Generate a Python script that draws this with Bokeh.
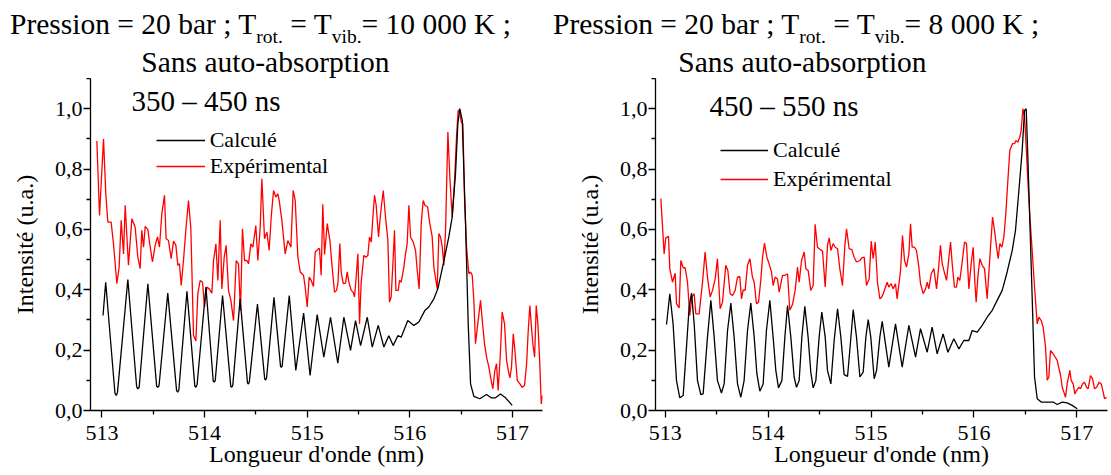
from bokeh.plotting import figure
from bokeh.layouts import row, column
from bokeh.models import (Range1d, FixedTicker, CustomJSTickFormatter, Label,
                          Legend, LegendItem, Div)
from bokeh.embed import file_html
from bokeh.resources import INLINE

FONT = "Liberation Serif"

# ---------------- data ----------------
X_TICKS = [513, 514, 515, 516, 517]
X_MINOR = [513.5, 514.5, 515.5, 516.5]
Y_TICKS = [0.0, 0.2, 0.4, 0.6, 0.8, 1.0]
Y_MINOR = [0.1, 0.3, 0.5, 0.7, 0.9, 1.1]

left_calc_x = [513.010, 513.036, 513.126, 513.139, 513.151, 513.252, 513.338, 513.350, 513.362, 513.447,
               513.533, 513.544, 513.556, 513.641, 513.727, 513.738, 513.749, 513.828, 513.905, 513.916,
               513.927, 514.013, 514.084, 514.094, 514.104, 514.175, 514.255, 514.265, 514.275, 514.346,
               514.418, 514.427, 514.436, 514.515, 514.586, 514.595, 514.604, 514.676, 514.740, 514.748,
               514.756, 514.825, 514.889, 514.965, 515.028, 515.097, 515.162, 515.227, 515.298, 515.357,
               515.422, 515.471, 515.520, 515.585, 515.634, 515.692, 515.747, 515.795, 515.838, 515.883,
               515.916, 515.980, 516.039, 516.088, 516.146, 516.185, 516.234, 516.273, 516.326, 516.380,
               516.413, 516.445, 516.468, 516.487, 516.511, 516.543, 516.569, 516.592, 516.624, 516.682,
               516.748, 516.793, 516.835, 516.884, 516.933, 516.998]
left_calc_y = [0.315, 0.425, 0.058, 0.050, 0.060, 0.434, 0.078, 0.072, 0.076, 0.420,
               0.080, 0.077, 0.082, 0.389, 0.066, 0.061, 0.068, 0.395, 0.080, 0.077,
               0.086, 0.409, 0.097, 0.094, 0.100, 0.381, 0.080, 0.077, 0.084, 0.370,
               0.091, 0.088, 0.095, 0.353, 0.104, 0.101, 0.108, 0.375, 0.146, 0.143,
               0.148, 0.381, 0.133, 0.323, 0.116, 0.318, 0.177, 0.309, 0.157, 0.309,
               0.199, 0.298, 0.215, 0.309, 0.210, 0.282, 0.210, 0.248, 0.215, 0.248,
               0.243, 0.298, 0.282, 0.293, 0.331, 0.343, 0.370, 0.403, 0.486, 0.575,
               0.641, 0.784, 0.950, 1.000, 0.961, 0.618, 0.287, 0.088, 0.047, 0.039,
               0.053, 0.042, 0.042, 0.055, 0.042, 0.017]

left_exp_x = [512.950, 512.976, 513.015, 513.037, 513.057, 513.089, 513.112, 513.145, 513.167, 513.187,
              513.210, 513.226, 513.258, 513.291, 513.323, 513.349, 513.372, 513.388, 513.405, 513.421,
              513.447, 513.470, 513.492, 513.518, 513.541, 513.560, 513.583, 513.609, 513.625, 513.648,
              513.674, 513.697, 513.720, 513.739, 513.755, 513.772, 513.794, 513.817, 513.843, 513.866,
              513.892, 513.915, 513.934, 513.957, 513.980, 513.999, 514.022, 514.045, 514.071, 514.087,
              514.110, 514.129, 514.152, 514.168, 514.191, 514.210, 514.233, 514.256, 514.282, 514.308,
              514.330, 514.350, 514.369, 514.389, 514.412, 514.428, 514.451, 514.470, 514.499, 514.519,
              514.542, 514.558, 514.584, 514.607, 514.629, 514.649, 514.672, 514.694, 514.714, 514.727,
              514.753, 514.785, 514.811, 514.841, 514.863, 514.883, 514.909, 514.932, 514.948, 514.964,
              514.980, 515.000, 515.019, 515.039, 515.061, 515.078, 515.110,
              515.120, 515.136, 515.152, 515.169, 515.195, 515.221, 515.243, 515.266, 515.286, 515.299,
              515.318, 515.331, 515.351, 515.373, 515.390, 515.406, 515.429, 515.448, 515.461, 515.481,
              515.494, 515.510, 515.526, 515.552, 515.572, 515.591, 515.607, 515.624, 515.640, 515.656,
              515.672, 515.695, 515.715, 515.741, 515.763, 515.786, 515.802, 515.818, 515.835, 515.851,
              515.864, 515.887, 515.900, 515.916, 515.942, 515.958, 515.974, 515.991, 516.007, 516.033,
              516.056, 516.072, 516.091, 516.111, 516.130, 516.147, 516.173, 516.195, 516.218, 516.234,
              516.254, 516.267, 516.283, 516.299, 516.316, 516.332, 516.348, 516.371, 516.390, 516.413,
              516.436, 516.455, 516.471, 516.484, 516.501, 516.517, 516.533, 516.553, 516.575, 516.592,
              516.608, 516.624, 516.640, 516.666, 516.689, 516.709, 516.728, 516.748, 516.770, 516.793,
              516.809, 516.829, 516.845, 516.861, 516.884, 516.900, 516.923, 516.943, 516.959, 516.975,
              516.991, 517.008, 517.024, 517.047, 517.073, 517.095, 517.118, 517.138, 517.154, 517.170,
              517.183, 517.199, 517.216, 517.232, 517.248, 517.264, 517.281, 517.294]
left_exp_y = [0.893, 0.646, 0.900, 0.718, 0.624, 0.624, 0.552, 0.420, 0.475, 0.630,
              0.519, 0.680, 0.481, 0.635, 0.608, 0.508, 0.470, 0.597, 0.541, 0.610,
              0.599, 0.541, 0.492, 0.547, 0.575, 0.541, 0.652, 0.713, 0.569, 0.563,
              0.503, 0.561, 0.547, 0.481, 0.486, 0.414, 0.497, 0.597, 0.696, 0.602,
              0.249, 0.230, 0.387, 0.431, 0.425, 0.343, 0.409, 0.403, 0.389, 0.497,
              0.552, 0.431, 0.630, 0.403, 0.508, 0.547, 0.398, 0.365, 0.298, 0.497,
              0.486, 0.331, 0.602, 0.497, 0.497, 0.486, 0.552, 0.541, 0.613, 0.497,
              0.608, 0.768, 0.569, 0.591, 0.530, 0.641, 0.729, 0.707, 0.718, 0.696,
              0.630, 0.519, 0.563, 0.541, 0.729, 0.696, 0.508, 0.459, 0.453, 0.448,
              0.409, 0.343, 0.442, 0.431, 0.411, 0.525, 0.536,
              0.536, 0.448, 0.683, 0.517, 0.619, 0.564, 0.475, 0.392, 0.398, 0.420,
              0.553, 0.459, 0.420, 0.422, 0.459, 0.425, 0.398, 0.392, 0.376, 0.459,
              0.519, 0.287, 0.425, 0.514, 0.508, 0.514, 0.575, 0.558, 0.641, 0.713,
              0.680, 0.575, 0.652, 0.729, 0.641, 0.564, 0.359, 0.376, 0.486, 0.597,
              0.398, 0.398, 0.431, 0.425, 0.475, 0.519, 0.553, 0.680, 0.575, 0.558,
              0.530, 0.464, 0.403, 0.619, 0.696, 0.680, 0.674, 0.619, 0.575, 0.475,
              0.431, 0.403, 0.586, 0.575, 0.541, 0.481, 0.597, 0.923, 0.773, 0.641,
              0.762, 0.906, 0.994, 0.994, 0.956, 0.950, 0.707, 0.541, 0.453, 0.459,
              0.448, 0.365, 0.221, 0.298, 0.365, 0.287, 0.221, 0.177, 0.144, 0.100,
              0.072, 0.133, 0.155, 0.066, 0.199, 0.326, 0.287, 0.166, 0.133, 0.108,
              0.144, 0.254, 0.199, 0.100, 0.088, 0.077, 0.083, 0.155, 0.265, 0.348,
              0.287, 0.221, 0.177, 0.348, 0.287, 0.177, 0.022, 0.050]

right_calc_x = [513.013, 513.045, 513.077, 513.110, 513.142, 513.175, 513.207, 513.233, 513.256, 513.282,
                513.314, 513.346, 513.369, 513.411, 513.444, 513.476, 513.508, 513.547, 513.573, 513.606,
                513.638, 513.670, 513.703, 513.735, 513.767, 513.800, 513.832, 513.865, 513.891, 513.920,
                513.952, 513.984, 514.017, 514.049, 514.075, 514.101, 514.134, 514.163, 514.189, 514.221,
                514.253, 514.276, 514.302, 514.328, 514.357, 514.389, 514.415, 514.438, 514.464, 514.496,
                514.522, 514.555, 514.577, 514.610, 514.642, 514.675, 514.707, 514.739, 514.772, 514.794,
                514.827, 514.859, 514.892, 514.924, 514.950, 514.973, 514.998, 515.031, 515.054, 515.086,
                515.109, 515.173, 515.238, 515.303, 515.368, 515.433, 515.481, 515.546, 515.594, 515.643,
                515.701, 515.747, 515.805, 515.854, 515.902, 515.951, 515.983, 516.032, 516.080, 516.129,
                516.178, 516.226, 516.275, 516.323, 516.372, 516.404, 516.437, 516.469, 516.492, 516.508,
                516.524, 516.544, 516.566, 516.589, 516.615, 516.654, 516.712, 516.770, 516.809, 516.858,
                516.906, 516.955, 517.004]
right_calc_y = [0.285, 0.387, 0.287, 0.099, 0.042, 0.050, 0.210, 0.343, 0.389, 0.287,
                0.099, 0.053, 0.055, 0.243, 0.365, 0.243, 0.099, 0.058, 0.088, 0.265,
                0.356, 0.243, 0.088, 0.044, 0.099, 0.265, 0.356, 0.243, 0.122, 0.064,
                0.088, 0.265, 0.365, 0.243, 0.133, 0.075, 0.099, 0.243, 0.348, 0.243,
                0.111, 0.077, 0.099, 0.243, 0.345, 0.243, 0.127, 0.075, 0.099, 0.243,
                0.326, 0.243, 0.133, 0.088, 0.232, 0.337, 0.243, 0.119, 0.113, 0.199,
                0.334, 0.243, 0.111, 0.127, 0.243, 0.301, 0.243, 0.105, 0.133, 0.243,
                0.295, 0.144, 0.287, 0.144, 0.282, 0.177, 0.271, 0.193, 0.276, 0.188,
                0.254, 0.193, 0.238, 0.204, 0.232, 0.232, 0.265, 0.260, 0.282, 0.309,
                0.332, 0.365, 0.398, 0.459, 0.530, 0.597, 0.729, 0.862, 0.994, 1.000,
                0.840, 0.619, 0.376, 0.111, 0.039, 0.028, 0.028, 0.028, 0.020, 0.028,
                0.025, 0.017, 0.006]

right_exp_x = [512.958, 512.990, 513.006, 513.032, 513.045, 513.071, 513.097, 513.110, 513.136, 513.152,
               513.175, 513.194, 513.217, 513.239, 513.259, 513.282, 513.298, 513.330, 513.363, 513.388,
               513.411, 513.437, 513.460, 513.486, 513.508, 513.534, 513.557, 513.589, 513.609, 513.631,
               513.654, 513.680, 513.703, 513.725, 513.742, 513.758, 513.777, 513.800, 513.823, 513.848,
               513.865, 513.887, 513.907, 513.929, 513.946, 513.965, 513.988, 514.010, 514.033, 514.049,
               514.069, 514.091, 514.108, 514.140, 514.166, 514.189, 514.211, 514.237, 514.263, 514.286,
               514.302, 514.325, 514.351, 514.367, 514.389, 514.415, 514.438, 514.457, 514.480, 514.503,
               514.529, 514.555, 514.577, 514.594, 514.610, 514.632, 514.652, 514.675, 514.697, 514.723,
               514.746, 514.762, 514.788, 514.814, 514.836, 514.859, 514.892, 514.911, 514.934, 514.956,
               514.982, 515.002, 515.021, 515.041, 515.063, 515.086, 515.105,
               515.118, 515.141, 515.157, 515.173, 515.196, 515.215, 515.238, 515.254, 515.287, 515.306,
               515.326, 515.345, 515.368, 515.384, 515.400, 515.423, 515.442, 515.465, 515.481, 515.507,
               515.530, 515.546, 515.562, 515.585, 515.611, 515.637, 515.659, 515.675, 515.692, 515.708,
               515.734, 515.756, 515.773, 515.789, 515.811, 515.831, 515.844, 515.863, 515.886, 515.909,
               515.928, 515.951, 515.973, 515.993, 516.009, 516.022, 516.038, 516.058, 516.080, 516.103,
               516.129, 516.155, 516.181, 516.200, 516.220, 516.236, 516.252, 516.272, 516.291, 516.310,
               516.330, 516.349, 516.362, 516.375, 516.395, 516.408, 516.427, 516.446, 516.459, 516.476,
               516.492, 516.505, 516.524, 516.544, 516.566, 516.589, 516.615, 516.631, 516.654, 516.673,
               516.696, 516.712, 516.728, 516.744, 516.770, 516.809, 516.842, 516.858, 516.874, 516.890,
               516.906, 516.932, 516.945, 516.965, 516.981, 516.997, 517.020, 517.036, 517.055, 517.075,
               517.094, 517.110, 517.133, 517.153, 517.172, 517.192, 517.217, 517.237, 517.256, 517.269,
               517.289]
right_exp_y = [0.702, 0.519, 0.572, 0.577, 0.470, 0.425, 0.455, 0.354, 0.340, 0.497,
               0.473, 0.473, 0.425, 0.315, 0.376, 0.387, 0.320, 0.320, 0.425, 0.525,
               0.442, 0.376, 0.398, 0.436, 0.503, 0.337, 0.359, 0.481, 0.464, 0.387,
               0.381, 0.398, 0.442, 0.444, 0.370, 0.400, 0.398, 0.481, 0.503, 0.442,
               0.425, 0.354, 0.359, 0.431, 0.508, 0.555, 0.508, 0.486, 0.459, 0.414,
               0.442, 0.436, 0.392, 0.448, 0.448, 0.453, 0.332, 0.351, 0.398, 0.475,
               0.425, 0.497, 0.525, 0.470, 0.464, 0.398, 0.414, 0.617, 0.541, 0.534,
               0.528, 0.409, 0.547, 0.572, 0.530, 0.553, 0.541, 0.536, 0.470, 0.414,
               0.547, 0.602, 0.536, 0.533, 0.508, 0.492, 0.497, 0.506, 0.508, 0.414,
               0.436, 0.561, 0.503, 0.558, 0.425, 0.370, 0.376,
               0.387, 0.409, 0.425, 0.409, 0.420, 0.403, 0.420, 0.370, 0.464, 0.580,
               0.497, 0.475, 0.519, 0.619, 0.541, 0.541, 0.530, 0.475, 0.420, 0.387,
               0.403, 0.425, 0.403, 0.453, 0.470, 0.403, 0.481, 0.547, 0.486, 0.464,
               0.431, 0.503, 0.558, 0.486, 0.409, 0.409, 0.442, 0.431, 0.492, 0.558,
               0.553, 0.403, 0.486, 0.541, 0.425, 0.359, 0.442, 0.503, 0.481, 0.470,
               0.370, 0.508, 0.641, 0.597, 0.541, 0.503, 0.553, 0.541, 0.575, 0.652,
               0.762, 0.862, 0.873, 0.884, 0.884, 0.895, 0.889, 0.906, 0.928, 1.000,
               0.972, 0.895, 0.762, 0.641, 0.530, 0.409, 0.287, 0.309, 0.298, 0.276,
               0.210, 0.100, 0.111, 0.199, 0.188, 0.166, 0.116, 0.077, 0.061, 0.044,
               0.088, 0.133, 0.100, 0.088, 0.055, 0.066, 0.077, 0.072, 0.088, 0.094,
               0.077, 0.072, 0.116, 0.105, 0.072, 0.077, 0.094, 0.088, 0.061, 0.039,
               0.044]

TITLE_HEAD = "Pression = 20 bar ; T"
SUB_ROT = "rot."
SUB_VIB = "vib."
TEMP_LEFT = "= 10 000 K ;"
TEMP_RIGHT = "= 8 000 K ;"
SUBTITLE = "Sans auto-absorption"
TIME_LEFT = "350 \u2013 450 ns"
TIME_RIGHT = "450 \u2013 550 ns"
LEGEND_LABELS = ["Calcul\u00e9", "Exp\u00e9rimental"]
X_LABEL = "Longueur d'onde (nm)"
Y_LABEL = "Intensit\u00e9 (u.a.)"


def title_div(temp_text, width, line1_left, line2_width):
    sub = ('<span style="font-size:19.5px;position:relative;top:9px;">{}</span>')
    html = ('<div style="padding-top:7px;padding-left:{l}px;white-space:nowrap;">'
            '{h}{s1} = T{s2}{t}</div>'
            '<div style="width:{w}px;text-align:center;white-space:nowrap;">{st}</div>'
            ).format(l=line1_left, h=TITLE_HEAD, s1=sub.format(SUB_ROT),
                     s2=sub.format(SUB_VIB), t=temp_text, w=line2_width, st=SUBTITLE)
    return Div(text=html, width=width, height=78, margin=0,
               styles={"font-family": FONT, "font-size": "29.5px", "line-height": "35px",
                       "color": "black"})


def make_panel(cx, cy, ex, ey, time_text, time_pos, legend_loc, legend_spacing, glyph_w,
               width, b_left, b_right, x0, x1):
    p = figure(width=width, height=397, x_range=Range1d(x0, x1), y_range=Range1d(0, 1.1),
               output_backend="svg", toolbar_location=None, title=None,
               min_border_left=b_left, min_border_right=b_right,
               min_border_top=0, min_border_bottom=65)
    p.grid.visible = False
    p.outline_line_color = None
    p.background_fill_color = "white"
    p.border_fill_color = "white"

    for ax in (p.xaxis[0], p.yaxis[0]):
        ax.axis_line_width = 1.3
        ax.axis_line_color = "black"
        ax.major_tick_line_width = 1.3
        ax.minor_tick_line_width = 1.3
        ax.major_tick_line_color = "black"
        ax.minor_tick_line_color = "black"
        ax.major_tick_out = 7
        ax.major_tick_in = 0
        ax.minor_tick_out = 4
        ax.minor_tick_in = 0
        ax.major_label_text_font = FONT
        ax.major_label_text_font_size = "22px"
        ax.major_label_text_color = "black"
        ax.axis_label_text_font = FONT
        ax.axis_label_text_font_size = "24px"
        ax.axis_label_text_font_style = "normal"
        ax.axis_label_text_color = "black"

    p.xaxis[0].ticker = FixedTicker(ticks=X_TICKS, minor_ticks=X_MINOR)
    p.xaxis[0].major_label_standoff = 8
    p.xaxis[0].axis_label = X_LABEL
    p.xaxis[0].axis_label_standoff = -2
    p.yaxis[0].ticker = FixedTicker(ticks=Y_TICKS, minor_ticks=Y_MINOR)
    p.yaxis[0].formatter = CustomJSTickFormatter(code="return tick.toFixed(1).replace('.', ',');")
    p.yaxis[0].major_label_standoff = 1
    p.yaxis[0].axis_label = Y_LABEL
    p.yaxis[0].axis_label_standoff = 14

    r_exp = p.line(ex, ey, line_color="#ff0000", line_width=1.3)
    r_calc = p.line(cx, cy, line_color="black", line_width=1.3)

    legend = Legend(items=[LegendItem(label=LEGEND_LABELS[0], renderers=[r_calc]),
                           LegendItem(label=LEGEND_LABELS[1], renderers=[r_exp])],
                    location=legend_loc, padding=0, margin=0, spacing=legend_spacing,
                    glyph_width=glyph_w, glyph_height=24, label_height=24, label_standoff=5,
                    label_text_font=FONT, label_text_font_size="22px",
                    label_text_color="black",
                    background_fill_alpha=0, border_line_alpha=0)
    p.add_layout(legend)

    p.add_layout(Label(x=time_pos[0], y=time_pos[1], x_units="screen", y_units="screen",
                       text=time_text, text_font=FONT, text_font_size="29px",
                       text_color="black", text_baseline="middle", text_align="left"))
    return p


div_l = title_div(TEMP_LEFT, 553, 10, 531)
div_r = title_div(TEMP_RIGHT, 558, 0, 499)

p1 = make_panel(left_calc_x, left_calc_y, left_exp_x, left_exp_y, TIME_LEFT, (41, 310),
                (65.7, 231.4), 0, 49, 553, 90, 11, 512.888, 517.293)
p2 = make_panel(right_calc_x, right_calc_y, right_exp_x, right_exp_y, TIME_RIGHT, (54, 305),
                (65, 217.7), 3, 48, 558, 102, 4, 512.906, 517.298)

layout = row(column(div_l, p1), column(div_r, p2))
open("out.html", "w").write(file_html(layout, INLINE))
